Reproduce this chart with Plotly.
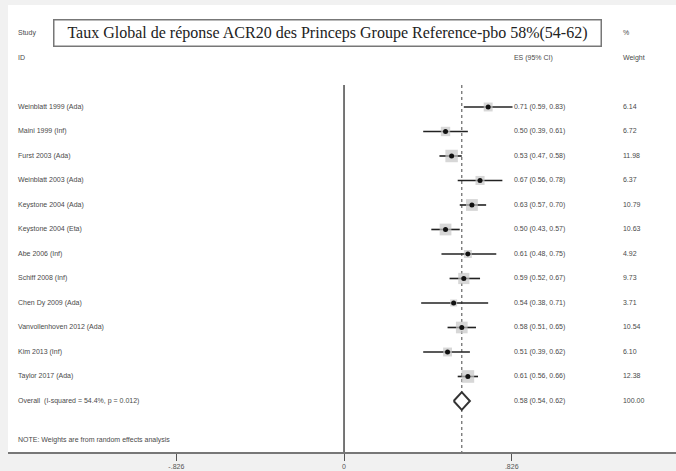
import plotly.graph_objects as go
import numpy as np

# ---------------- data ----------------
studies = ["Weinblatt 1999 (Ada)", "Maini 1999 (Inf)", "Furst 2003 (Ada)",
           "Weinblatt 2003 (Ada)", "Keystone 2004 (Ada)", "Keystone 2004 (Eta)",
           "Abe 2006 (Inf)", "Schiff 2008 (Inf)", "Chen Dy 2009 (Ada)",
           "Vanvollenhoven 2012 (Ada)", "Kim 2013 (Inf)", "Taylor 2017 (Ada)"]
es = [0.71, 0.50, 0.53, 0.67, 0.63, 0.50, 0.61, 0.59, 0.54, 0.58, 0.51, 0.61]
ci_lo = [0.59, 0.39, 0.47, 0.56, 0.57, 0.43, 0.48, 0.52, 0.38, 0.51, 0.39, 0.56]
ci_hi = [0.83, 0.61, 0.58, 0.78, 0.70, 0.57, 0.75, 0.67, 0.71, 0.65, 0.62, 0.66]
weights = [6.14, 6.72, 11.98, 6.37, 10.79, 10.63, 4.92, 9.73, 3.71, 10.54, 6.10, 12.38]

overall_label = "Overall  (I-squared = 54.4%, p = 0.012)"
overall_es, overall_lo, overall_hi, overall_w = 0.58, 0.54, 0.62, 100.00

x_ticks = [-0.826, 0, 0.826]
x_tick_labels = ["-.826", "0", ".826"]

title_text = "Taux Global de réponse ACR20 des Princeps Groupe Reference-pbo 58%(54-62)"
note_text = "NOTE: Weights are from random effects analysis"

# ---------------- layout helpers ----------------
rows = list(range(1, len(studies) + 1))
overall_row = len(studies) + 1
note_row = 14.6
X_LABEL, X_ES, X_W = -1.606, 0.837, 1.374
TXT = dict(family="Liberation Sans, Arial, sans-serif", size=7, color="#4a4a4a")

fig = go.Figure()

# CI lines
cx, cy = [], []
for r, l, h in zip(rows, ci_lo, ci_hi):
    cx += [l, h, None]
    cy += [r, r, None]
fig.add_trace(go.Scatter(x=cx, y=cy, mode="lines",
                         line=dict(color="#222", width=1.6), hoverinfo="skip"))

# weight squares
fig.add_trace(go.Scatter(x=es, y=rows, mode="markers",
                         marker=dict(symbol="square", color="#c6c6c6",
                                     size=[3.6 * np.sqrt(w) for w in weights],
                                     line=dict(width=0)),
                         hoverinfo="skip"))
# point estimates
fig.add_trace(go.Scatter(x=es, y=rows, mode="markers",
                         marker=dict(symbol="circle", color="#111", size=5),
                         hoverinfo="skip"))

# overall diamond
dh = 0.36
fig.add_trace(go.Scatter(
    x=[overall_lo, overall_es, overall_hi, overall_es, overall_lo],
    y=[overall_row, overall_row - dh, overall_row, overall_row + dh, overall_row],
    mode="lines", fill="toself", fillcolor="white",
    line=dict(color="#333", width=2), hoverinfo="skip"))

# left text column
fig.add_trace(go.Scatter(
    x=[X_LABEL] * (len(studies) + 4),
    y=[-2, -1] + rows + [overall_row, note_row],
    text=["Study", "ID"] + studies + [overall_label, note_text],
    mode="text", textposition="middle right", textfont=TXT, hoverinfo="skip"))

# ES column
es_text = [f"{e:.2f} ({l:.2f}, {h:.2f})" for e, l, h in zip(es, ci_lo, ci_hi)]
es_text.append(f"{overall_es:.2f} ({overall_lo:.2f}, {overall_hi:.2f})")
fig.add_trace(go.Scatter(
    x=[X_ES] * (len(es_text) + 1), y=[-1] + rows + [overall_row],
    text=["ES (95% CI)"] + es_text,
    mode="text", textposition="middle right", textfont=TXT, hoverinfo="skip"))

# Weight column
w_text = [f"{w:.2f}" for w in weights] + [f"{overall_w:.2f}"]
fig.add_trace(go.Scatter(
    x=[X_W] * (len(w_text) + 2), y=[-2, -1] + rows + [overall_row],
    text=["%", "Weight"] + w_text,
    mode="text", textposition="middle right", textfont=TXT, hoverinfo="skip"))

# null line and overall dashed line
fig.add_shape(type="line", x0=0, x1=0, y0=0.1, y1=15.1,
              line=dict(color="#555", width=1.6), layer="below")
fig.add_shape(type="line", x0=overall_es, x1=overall_es, y0=0.1, y1=15.1,
              line=dict(color="#666", width=1.2, dash="3px,3px"), layer="below")

# title box
fig.add_annotation(x=0.478, y=-2, xref="paper", yref="y",
                   text=title_text, showarrow=False,
                   font=dict(family="Liberation Serif, DejaVu Serif, serif", size=16, color="#222"),
                   bordercolor="#777", borderwidth=1.5, borderpad=3,
                   width=540, height=19, bgcolor="white", xanchor="center")

fig.update_layout(
    width=676, height=471,
    margin=dict(l=8, r=0, t=5, b=19),
    paper_bgcolor="#f1f1f1", plot_bgcolor="white",
    showlegend=False,
    xaxis=dict(range=[-1.6553, 1.6353], tickvals=x_ticks, ticktext=x_tick_labels,
               ticks="outside", ticklen=7, tickwidth=1.2, tickcolor="#555",
               showline=True, linecolor="#777", linewidth=2,
               showgrid=False, zeroline=False,
               tickfont=dict(family="Liberation Sans, Arial, sans-serif", size=7, color="#555")),
    yaxis=dict(range=[15.082, -3.163], visible=False, showgrid=False, zeroline=False),
)

fig.write_html("out.html", config={"displayModeBar": False},
               post_script="document.body.style.margin='0';document.body.style.overflow='hidden';")
